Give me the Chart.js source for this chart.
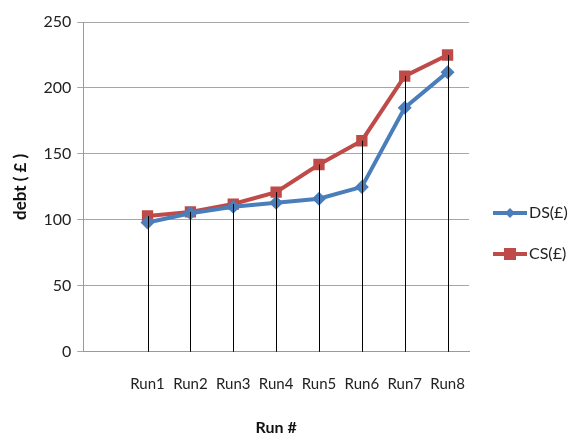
<!DOCTYPE html>
<html>
<head>
<meta charset="utf-8">
<script src="https://cdn.jsdelivr.net/npm/chart.js@4/dist/chart.umd.min.js"></script>
<style>
  html, body { margin: 0; padding: 0; background: #ffffff; }
  #wrap { width: 577px; height: 439px; }
</style>
</head>
<body>
<div id="wrap"><canvas id="c" width="577" height="439"></canvas></div>
<script>
// Debt per run for the two schemes
const categories = ['Run1', 'Run2', 'Run3', 'Run4', 'Run5', 'Run6', 'Run7', 'Run8'];
const dsValues = [98, 105, 110, 113, 116, 125, 185, 212];
const csValues = [103, 106, 112, 121, 142, 160, 209, 225];
const seriesNames = ['DS(£)', 'CS(£)'];
const yTickValues = [0, 50, 100, 150, 200, 250];

const BLUE = '#4a7ebb';
const RED = '#be4b48';
const FONT = 'Lato, "Liberation Sans", sans-serif';

// the category axis keeps an empty slot ahead of Run1
const labels = [''].concat(categories);
const dsData = [null].concat(dsValues);
const csData = [null].concat(csValues);

// vertical drop lines from the highest point of each run to the axis
const dropLines = {
  id: 'dropLines',
  afterDatasetsDraw(chart) {
    const { ctx, scales } = chart;
    const y0 = scales.y.getPixelForValue(0);
    ctx.save();
    ctx.strokeStyle = '#000000';
    ctx.lineWidth = 1;
    labels.forEach((lab, i) => {
      const vals = chart.data.datasets.map(d => d.data[i]).filter(v => v != null);
      if (!vals.length) return;
      const top = scales.y.getPixelForValue(Math.max(...vals));
      const x = Math.round(scales.x.getPixelForValue(i)) + 0.5;
      ctx.beginPath();
      ctx.moveTo(x, top);
      ctx.lineTo(x, y0);
      ctx.stroke();
    });
    ctx.restore();
  }
};

// legend with a line segment and its marker, to the right of the plot
const sideLegend = {
  id: 'sideLegend',
  afterDraw(chart) {
    const { ctx, chartArea } = chart;
    const x0 = chartArea.right + 24;
    const rows = [chartArea.top + 191, chartArea.top + 232];
    ctx.save();
    chart.data.datasets.forEach((ds, k) => {
      const y = rows[k];
      ctx.strokeStyle = ds.borderColor;
      ctx.lineWidth = 4;
      ctx.beginPath();
      ctx.moveTo(x0, y);
      ctx.lineTo(x0 + 34, y);
      ctx.stroke();
      ctx.fillStyle = ds.borderColor;
      const cx = x0 + 17;
      if (ds.pointStyle === 'rectRot') {
        ctx.beginPath();
        ctx.moveTo(cx, y - 5);
        ctx.lineTo(cx + 5, y);
        ctx.lineTo(cx, y + 5);
        ctx.lineTo(cx - 5, y);
        ctx.closePath();
        ctx.fill();
      } else {
        ctx.fillRect(cx - 6, y - 6, 12, 12);
      }
      ctx.fillStyle = '#222222';
      ctx.font = '16px ' + FONT;
      ctx.textBaseline = 'middle';
      ctx.textAlign = 'left';
      ctx.fillText(ds.label, x0 + 36, y);
    });
    ctx.restore();
  }
};

new Chart(document.getElementById('c'), {
  type: 'line',
  data: {
    labels: labels,
    datasets: [
      {
        label: seriesNames[0],
        data: dsData,
        borderColor: BLUE,
        backgroundColor: BLUE,
        borderWidth: 4,
        pointStyle: 'rectRot',
        pointRadius: 7,
        pointHoverRadius: 7,
        pointBorderWidth: 0,
        tension: 0
      },
      {
        label: seriesNames[1],
        data: csData,
        borderColor: RED,
        backgroundColor: RED,
        borderWidth: 4,
        pointStyle: 'rect',
        pointRadius: 8,
        pointHoverRadius: 8,
        pointBorderWidth: 0,
        tension: 0
      }
    ]
  },
  options: {
    responsive: false,
    animation: false,
    layout: { padding: { left: 10, right: 108, top: 22, bottom: 2 } },
    plugins: {
      legend: { display: false },
      tooltip: { enabled: false }
    },
    scales: {
      x: {
        offset: true,
        grid: { display: false, drawTicks: false },
        border: { color: '#9a9a9a', width: 1 },
        ticks: {
          color: '#222222',
          font: { family: FONT, size: 15 },
          padding: 23,
          maxRotation: 0,
          autoSkip: false
        },
        title: {
          display: true,
          text: 'Run #',
          color: '#111111',
          font: { family: FONT, size: 16, weight: 'bold' },
          padding: { top: 2, bottom: 0 }
        }
      },
      y: {
        min: 0,
        max: 250,
        afterBuildTicks(axis) { axis.ticks = yTickValues.map(v => ({ value: v })); },
        grid: { color: '#a6a6a6', lineWidth: 1, tickLength: 6, tickColor: '#a6a6a6' },
        border: { color: '#9a9a9a', width: 1 },
        ticks: {
          color: '#222222',
          font: { family: FONT, size: 16 },
          padding: 6
        },
        title: {
          display: true,
          text: 'debt ( £ )',
          color: '#111111',
          font: { family: FONT, size: 17, weight: 'bold' },
          padding: { top: 0, bottom: 7 }
        }
      }
    }
  },
  plugins: [dropLines, sideLegend]
});
</script>
</body>
</html>
